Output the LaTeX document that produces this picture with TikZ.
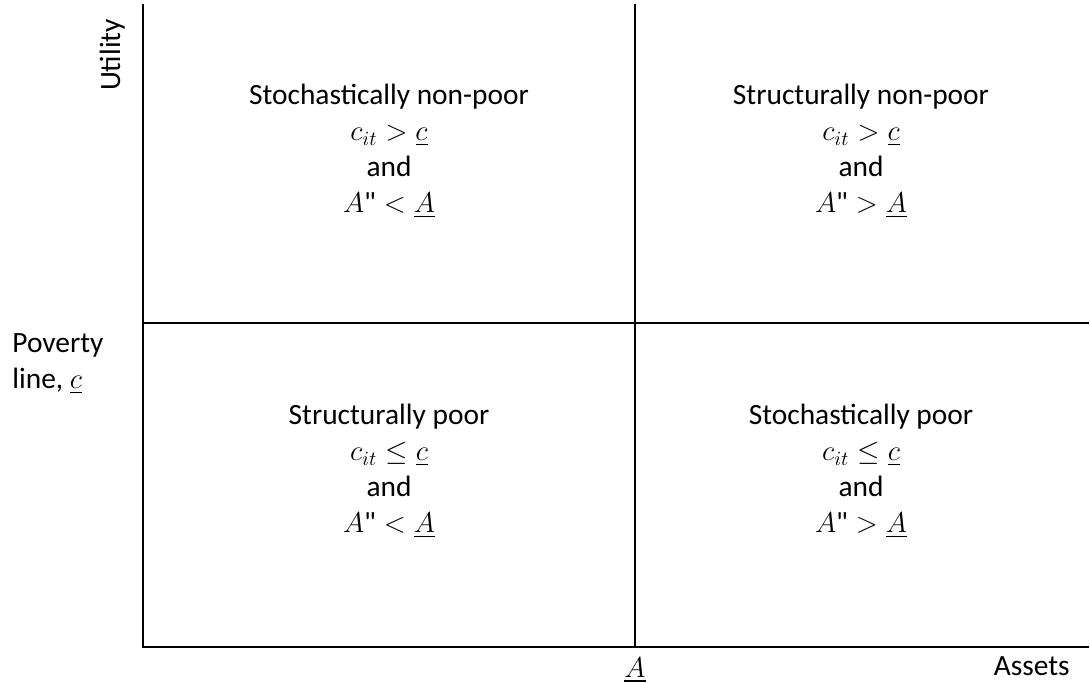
\documentclass[tikz,border=0pt]{standalone}
\usepackage{amsmath}
\usepackage{fontspec}
\setmainfont{Carlito}
\newfontfamily\quotefont{Carlito}
\newcommand{\dq}{\text{\quotefont\symbol{34}}}

\begin{document}
\begin{tikzpicture}[
  x=0.5pt, y=-0.5pt,
  line cap=rect,
  every node/.style={font=\fontsize{14.7}{18}\selectfont, inner sep=0pt},
  quadtext/.style={align=center, anchor=north},
  frame/.style={line width=1pt}
]
  \useasboundingbox (0,0) rectangle (1090,683);

  \coordinate (TL) at (143,5);
  \coordinate (BL) at (143,647);
  \coordinate (BR) at (1088,647);
  \coordinate (ML) at (143,323);
  \coordinate (MR) at (1088,323);
  \coordinate (MT) at (635,5);
  \coordinate (MB) at (635,647);

  % Achsen und Trennlinien
  \draw[frame] (TL) -- (BL) -- (BR);
  \draw[frame] (ML) -- (MR);
  \draw[frame] (MT) -- (MB);

  % Quadranten
  \node[quadtext] (snp) at (389,84)
    {Stochastically non-poor\\ $c_{it} > \underline{c}$\\ and\\ $A\dq < \underline{A}$};
  \node[quadtext] (tnp) at (861,84)
    {Structurally non-poor\\ $c_{it} > \underline{c}$\\ and\\ $A\dq > \underline{A}$};
  \node[quadtext] (tp) at (389,404)
    {Structurally poor\\ $c_{it} \le \underline{c}$\\ and\\ $A\dq < \underline{A}$};
  \node[quadtext] (sp) at (861,404)
    {Stochastically poor\\ $c_{it} \le \underline{c}$\\ and\\ $A\dq > \underline{A}$};

  % Beschriftungen
  \node[rotate=90, anchor=base] (util) at (120,55) {Utility};
  \node[align=left, anchor=north west] (pline) at (12,333)
    {Poverty\\ line, $\underline{c}$};
  \node[anchor=base] (athr) at (635,677) {$\underline{A}$};
  \node[anchor=base east] (assets) at (1070,675) {Assets};
\end{tikzpicture}
\end{document}
